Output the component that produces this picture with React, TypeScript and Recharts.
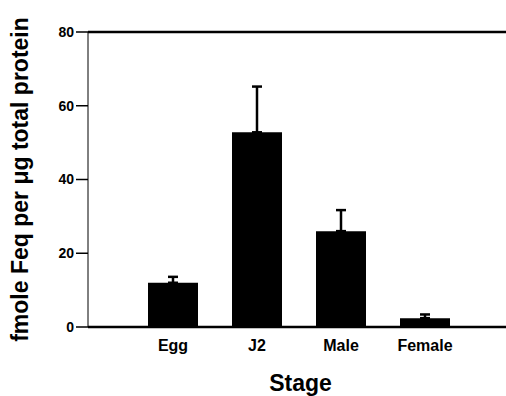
import React from 'react'
import { BarChart, Bar, XAxis, YAxis, ErrorBar, ReferenceLine, Label } from 'recharts'

const stages = ['Egg', 'J2', 'Male', 'Female']
const means = [12, 52.8, 26, 2.4]
const sems = [1.6, 12.4, 5.7, 1.0]
const yTicks = [0, 20, 40, 60, 80]

const data = stages.map((stage, i) => ({
  stage,
  value: means[i],
  err: [0, sems[i]],
}))

const font = '"Liberation Sans", Arial, Helvetica, sans-serif'

function YTitle({ viewBox }: { viewBox?: { x: number; y: number; width: number; height: number } }) {
  if (!viewBox) return null
  const x = viewBox.x + 28
  const y = viewBox.y + viewBox.height / 2
  return (
    <text
      transform={`translate(${x},${y}) rotate(-90)`}
      textAnchor="middle"
      fontFamily={font}
      fontWeight="bold"
      fontSize={23}
      fill="#000"
    >
      fmole Feq per μg total protein
    </text>
  )
}

function XTitle({ viewBox }: { viewBox?: { x: number; y: number; width: number; height: number } }) {
  if (!viewBox) return null
  return (
    <text
      x={viewBox.x + 212.5}
      y={viewBox.y + 63.5}
      textAnchor="middle"
      fontFamily={font}
      fontWeight="bold"
      fontSize={23}
      fill="#000"
    >
      Stage
    </text>
  )
}

export default function App() {
  return (
    <div style={{ position: 'absolute', left: 0, top: 0, width: 506, height: 396, overflow: 'hidden', background: '#fff' }}>
      <BarChart width={520} height={396} data={data} margin={{ top: 32, right: 0, bottom: 0, left: 0 }}>
        <XAxis
          dataKey="stage"
          height={69}
          padding={{ left: 43, right: 53 }}
          tickLine={false}
          tickSize={0}
          tickMargin={13}
          axisLine={{ stroke: '#000', strokeWidth: 2.5 }}
          tick={{ fill: '#000', fontSize: 16, fontWeight: 'bold', fontFamily: font }}
        >
          <Label content={<XTitle />} />
        </XAxis>
        <YAxis
          width={88}
          domain={[0, 80]}
          ticks={yTicks}
          interval={0}
          tickSize={12}
          tickMargin={2}
          axisLine={{ stroke: '#000', strokeWidth: 1 }}
          tickLine={{ stroke: '#000', strokeWidth: 1.5 }}
          tick={{ fill: '#000', fontSize: 14, fontWeight: 'bold', fontFamily: font }}
        >
          <Label content={<YTitle />} />
        </YAxis>
        <ReferenceLine y={80} stroke="#000" strokeWidth={2.5} />
        <Bar dataKey="value" fill="#000" barSize={50} isAnimationActive={false}>
          <ErrorBar dataKey="err" width={5} stroke="#000" strokeWidth={2.5} direction="y" isAnimationActive={false} />
        </Bar>
      </BarChart>
    </div>
  )
}
